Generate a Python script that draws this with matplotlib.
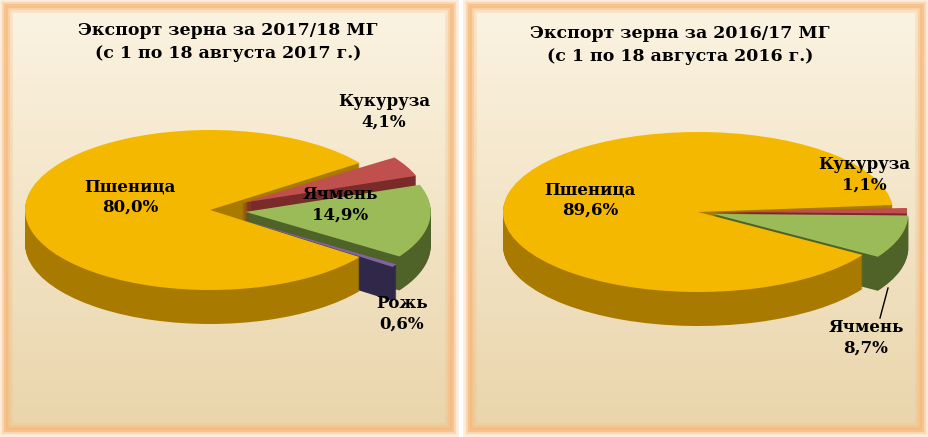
import matplotlib
matplotlib.use("Agg")
import matplotlib.pyplot as plt
from matplotlib.patches import Wedge, FancyBboxPatch
from matplotlib.transforms import Affine2D
import numpy as np

titles = ["Экспорт зерна за 2017/18 МГ\n(с 1 по 18 августа 2017 г.)",
          "Экспорт зерна за 2016/17 МГ\n(с 1 по 18 августа 2016 г.)"]
cats_left = ["Пшеница", "Рожь", "Ячмень", "Кукуруза"]
vals_left = [80.0, 0.6, 14.9, 4.1]
cats_right = ["Пшеница", "Ячмень", "Кукуруза"]
vals_right = [89.6, 8.7, 1.1]

top_col = {"Пшеница": "#F5B800", "Кукуруза": "#C0504D", "Ячмень": "#9BBB59", "Рожь": "#8064A2"}
side_col = {"Пшеница": "#A87A00", "Кукуруза": "#7A2A28", "Ячмень": "#4F6228", "Рожь": "#302848"}

fig = plt.figure(figsize=(9.29, 4.37), dpi=100)
ax = fig.add_axes([0, 0, 1, 1])
ax.set_xlim(0, 929); ax.set_ylim(437, 0); ax.axis("off")
fig.patch.set_facecolor("white")

for x0, w in [(6, 446), (470, 452)]:
    for lw, a in [(10, 0.25), (6, 0.4), (3, 0.7)]:
        ax.add_patch(FancyBboxPatch((x0, 6), w, 424, boxstyle="square,pad=0",
                                    fc="none", ec="#F7B97A", lw=lw, alpha=a))
    grad = np.linspace(0, 1, 256).reshape(-1, 1)
    ax.imshow(grad, extent=(x0, x0 + w, 430, 6), cmap=matplotlib.colors.LinearSegmentedColormap.from_list(
        "g", ["#FBF3E2", "#EAD5AB"]), aspect="auto", zorder=0)

def pie3d(cx, cy, rx, ry, depth, cats, vals, start, explode):
    ang = start
    pieces = []
    for c, v in zip(cats, vals):
        span = v / 100 * 360
        a1, a2 = ang, ang + span
        mid = np.deg2rad((a1 + a2) / 2)
        ex = explode.get(c, 0)
        ox, oy = ex * np.cos(mid), -ex * np.sin(mid) * ry / rx
        pieces.append((c, a1, a2, ox, oy))
        ang = a2
    for d in range(depth, 0, -1):
        for c, a1, a2, ox, oy in pieces:
            t = Affine2D().scale(1, -ry / rx).translate(cx + ox, cy + oy + d) + ax.transData
            ax.add_patch(Wedge((0, 0), rx, a1, a2, fc=side_col[c], ec="none", transform=t, zorder=2))
    for c, a1, a2, ox, oy in pieces:
        t = Affine2D().scale(1, -ry / rx).translate(cx + ox, cy + oy) + ax.transData
        ax.add_patch(Wedge((0, 0), rx, a1, a2, fc=top_col[c], ec="none", transform=t, zorder=3))

pie3d(210, 210, 185, 80, 34, cats_left, vals_left, 36, {"Кукуруза": 36, "Ячмень": 36, "Рожь": 40})
pie3d(698, 212, 195, 80, 34, cats_right, vals_right, 5.0, {"Кукуруза": 14, "Ячмень": 16})

fs = dict(fontfamily="DejaVu Serif", fontweight="bold", ha="center", va="center", zorder=5)
ax.text(228, 42, titles[0], fontsize=12.5, linespacing=1.4, **fs)
ax.text(680, 45, titles[1], fontsize=12.5, linespacing=1.4, **fs)
for txt, x, y in [("Пшеница\n80,0%", 130, 197), ("Кукуруза\n4,1%", 384, 112),
                  ("Ячмень\n14,9%", 340, 205), ("Рожь\n0,6%", 402, 314),
                  ("Пшеница\n89,6%", 590, 200), ("Кукуруза\n1,1%", 864, 175),
                  ("Ячмень\n8,7%", 866, 338)]:
    ax.text(x, y, txt, fontsize=12, linespacing=1.3, **fs)
ax.plot([888, 880], [288, 318], color="black", lw=1, zorder=5)

fig.savefig("out.png", dpi=100)
